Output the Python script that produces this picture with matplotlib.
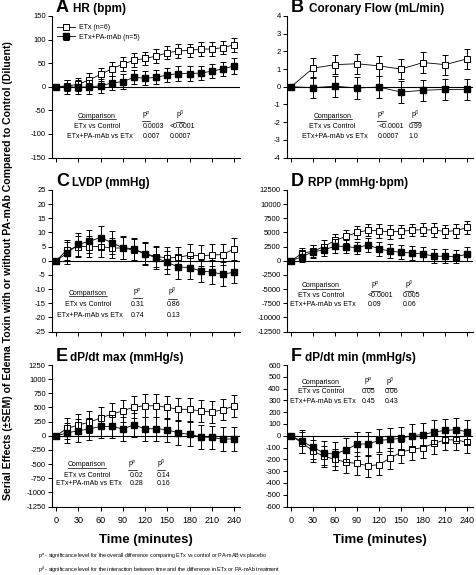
import matplotlib
matplotlib.use("Agg")
import matplotlib.pyplot as plt
from matplotlib.lines import Line2D

plt.rcParams["font.family"] = ["Liberation Sans", "DejaVu Sans"]
plt.rcParams["mathtext.fontset"] = "custom"
plt.rcParams["mathtext.rm"] = "Liberation Sans"
plt.rcParams["mathtext.it"] = "Liberation Sans:italic"
plt.rcParams["mathtext.bf"] = "Liberation Sans:bold"
plt.rcParams["axes.unicode_minus"] = False

# time points (minutes)
t15 = [0, 15, 30, 45, 60, 75, 90, 105, 120, 135, 150, 165, 180, 195, 210, 225, 240]
t30 = [0, 30, 60, 90, 120, 150, 180, 210, 240]

# A - HR (bpm)
hr_etx = [0, 2, 5, 15, 26, 38, 48, 56, 60, 65, 72, 76, 77, 80, 80, 83, 89]
hr_etx_err = [0, 12, 14, 14, 14, 15, 15, 15, 14, 14, 14, 14, 14, 14, 14, 14, 15]
hr_mab = [0, 0, -1, 0, 2, 8, 11, 20, 18, 20, 25, 28, 28, 29, 33, 38, 44]
hr_mab_err = [0, 15, 15, 15, 15, 15, 15, 15, 15, 15, 15, 15, 15, 15, 15, 15, 16]

# B - Coronary flow (mL/min)
cf_etx = [0, 1.05, 1.25, 1.3, 1.18, 1.0, 1.37, 1.25, 1.58]
cf_etx_err = [0, 0.55, 0.55, 0.57, 0.57, 0.57, 0.57, 0.57, 0.57]
cf_mab = [0, -0.05, 0.03, -0.07, -0.02, -0.3, -0.2, -0.15, -0.15]
cf_mab_err = [0, 0.6, 0.6, 0.6, 0.6, 0.6, 0.6, 0.6, 0.6]

# C - LVDP (mmHg)
lv_etx = [0, 3.9, 5.0, 5.0, 5.0, 4.5, 4.5, 3.8, 2.5, 1.5, 1.0, 1.2, 2.0, 1.8, 2.0, 2.2, 4.2]
lv_etx_err = [0, 3.5, 3.7, 3.8, 3.5, 3.5, 3.8, 4.0, 3.8, 3.8, 3.8, 3.8, 3.8, 3.8, 3.8, 3.8, 3.8]
lv_mab = [0, 2.7, 5.8, 6.9, 8.2, 6.4, 4.6, 4.2, 2.5, 1.0, -0.6, -2.2, -2.4, -3.6, -4.0, -4.8, -4.0]
lv_mab_err = [0, 4.0, 4.0, 4.0, 4.1, 4.0, 4.0, 4.0, 4.0, 4.0, 4.1, 4.2, 4.0, 4.0, 4.2, 4.2, 4.0]

# D - RPP (mmHg*bpm)
rpp_etx = [0, 1300, 1700, 2500, 3600, 4300, 5000, 5400, 5300, 5100, 5200, 5400, 5500, 5400, 5200, 5300, 5900]
rpp_etx_err = [0, 900, 1000, 1100, 1200, 1100, 1100, 1100, 1200, 1200, 1200, 1100, 1200, 1200, 1200, 1200, 1100]
rpp_mab = [0, 700, 1600, 1900, 2600, 2500, 2300, 2800, 2100, 1700, 1500, 1350, 1200, 800, 800, 750, 1150]
rpp_mab_err = [0, 1000, 1100, 1100, 1200, 1200, 1100, 1200, 1200, 1200, 1200, 1200, 1200, 1200, 1200, 1200, 1200]

# E - dP/dt max (mmHg/s)
dmax_etx = [0, 130, 190, 240, 315, 380, 440, 505, 530, 530, 500, 470, 465, 440, 420, 460, 525]
dmax_etx_err = [0, 180, 190, 190, 190, 190, 190, 200, 200, 200, 200, 200, 200, 200, 200, 190, 190]
dmax_mab = [0, 50, 90, 120, 165, 165, 120, 195, 120, 125, 105, 50, 25, -20, -30, -60, -55]
dmax_mab_err = [0, 180, 200, 200, 210, 210, 210, 210, 210, 210, 210, 210, 210, 210, 210, 210, 210]

# F - dP/dt min (mmHg/s)
dmin_etx = [0, -60, -130, -175, -200, -225, -235, -255, -245, -190, -140, -115, -100, -65, -35, -35, -55]
dmin_etx_err = [0, 90, 90, 90, 90, 90, 95, 95, 90, 90, 90, 90, 90, 90, 90, 90, 90]
dmin_mab = [0, -48, -98, -147, -156, -120, -70, -70, -40, -31, -22, 2, 10, 32, 45, 52, 33]
dmin_mab_err = [0, 100, 100, 100, 100, 100, 100, 100, 100, 100, 100, 100, 100, 100, 100, 100, 100]

letters = ["A", "B", "C", "D", "E", "F"]
titles = ["HR (bpm)", "Coronary Flow (mL/min)", "LVDP (mmHg)",
          "RPP (mmHg\u00b7bpm)", "dP/dt max (mmHg/s)", "dP/dt min (mmHg/s)"]
ylims = [(-150, 150, 50), (-4, 4, 1), (-25, 25, 5),
         (-12500, 12500, 2500), (-1250, 1250, 250), (-600, 600, 100)]
stats = [
    (("0.0003", "<0.0001"), ("0.007", "0.0007")),
    (("<0.0001", "0.99"), ("0.0007", "1.0")),
    (("0.31", "0.86"), ("0.74", "0.13")),
    (("<0.0001", "0.005"), ("0.09", "0.06")),
    (("0.02", "0.14"), ("0.28", "0.16")),
    (("0.05", "0.06"), ("0.45", "0.43")),
]
series = [
    (t15, hr_etx, hr_etx_err, hr_mab, hr_mab_err),
    (t30, cf_etx, cf_etx_err, cf_mab, cf_mab_err),
    (t15, lv_etx, lv_etx_err, lv_mab, lv_mab_err),
    (t15, rpp_etx, rpp_etx_err, rpp_mab, rpp_mab_err),
    (t15, dmax_etx, dmax_etx_err, dmax_mab, dmax_mab_err),
    (t15, dmin_etx, dmin_etx_err, dmin_mab, dmin_mab_err),
]

W, H = 476, 575
fig = plt.figure(figsize=(W / 100, H / 100), dpi=100)
fig.set_facecolor("white")

# axes boxes in pixels
col_left = [52, 287]
col_w = [188, 186]
row_top = [16, 190, 365]
row_h = 141.5

# per panel table layout (axes fractions): comparison x, pa x, pa val x, pb x, pb val x, header y, row1 y, row2 y
tables = [
    (0.24, 0.50, 0.485, 0.68, 0.628, 0.28, 0.205, 0.14),
    (0.245, 0.51, 0.49, 0.69, 0.655, 0.28, 0.205, 0.14),
    (0.19, 0.457, 0.42, 0.64, 0.612, 0.26, 0.183, 0.106),
    (0.183, 0.478, 0.435, 0.656, 0.624, 0.312, 0.241, 0.177),
    (0.186, 0.43, 0.415, 0.58, 0.556, 0.284, 0.206, 0.149),
    (0.183, 0.44, 0.403, 0.554, 0.527, 0.865, 0.80, 0.73),
]
label_x = [0.112, 0.118, 0.106, 0.113, 0.096, 0.097]

underlined = []

for i in range(6):
    r, c = divmod(i, 2)
    left = col_left[c] / W
    bottom = 1 - (row_top[r] + row_h) / H
    ax = fig.add_axes([left, bottom, col_w[c] / W, row_h / H])
    t, e_y, e_err, m_y, m_err = series[i]

    ax.axhline(0, color="black", lw=0.8, zorder=1)
    ms = 4.3 if i == 1 else 3.7
    ax.errorbar(t, e_y, yerr=e_err, fmt="s-", color="black", lw=0.6,
                ms=ms, mfc="white", mec="black", mew=0.7,
                ecolor="black", elinewidth=0.7, capsize=2.4, capthick=0.7,
                zorder=3, label="ETx (n=6)")
    ax.errorbar(t, m_y, yerr=m_err, fmt="s-", color="black", lw=0.6,
                ms=ms + 0.4, mfc="black", mec="black",
                ecolor="black", elinewidth=0.7, capsize=2.4, capthick=0.7,
                zorder=4, label="ETx+PA-mAb (n=5)")

    lo, hi, step = ylims[i]
    ax.set_ylim(lo, hi)
    ax.set_yticks([lo + k * step for k in range(int((hi - lo) / step) + 1)])
    ax.set_xlim(-5.5, 248)
    ax.set_xticks([0, 30, 60, 90, 120, 150, 180, 210, 240])
    ax.spines["top"].set_visible(False)
    ax.spines["right"].set_visible(False)
    ax.spines["left"].set_linewidth(0.8)
    ax.spines["bottom"].set_linewidth(0.8)
    ax.tick_params(axis="y", direction="out", length=3, width=0.7, labelsize=5.5, pad=1.5)
    ax.tick_params(axis="x", direction="out", length=3, width=0.7, labelsize=6.5, pad=4)
    if r < 2:
        ax.set_xticklabels([])
    else:
        ax.set_xlabel("Time (minutes)", fontsize=9.5, fontweight="bold", labelpad=6)

    # panel title
    ax.text(0.02, 1.025, letters[i], transform=ax.transAxes, fontsize=13,
            fontweight="bold", va="baseline", ha="left")
    ax.text(label_x[i], 1.025, titles[i], transform=ax.transAxes, fontsize=8.5,
            fontweight="bold", va="baseline", ha="left")

    # comparison table
    cx, pax, pavx, pbx, pbvx, hy, y1, y2 = tables[i]
    fs = 5.0
    underlined.append(ax.text(cx, hy, "Comparison", transform=ax.transAxes,
                              fontsize=fs, ha="center", va="baseline"))
    underlined.append(ax.text(pax, hy, r"p$^{\alpha}$", transform=ax.transAxes,
                              fontsize=fs, ha="center", va="baseline"))
    underlined.append(ax.text(pbx, hy, r"p$^{\beta}$", transform=ax.transAxes,
                              fontsize=fs, ha="center", va="baseline"))
    (a1, b1), (a2, b2) = stats[i]
    ax.text(cx, y1, "ETx vs Control", transform=ax.transAxes, fontsize=fs, ha="center", va="baseline")
    ax.text(cx + 0.012, y2, "ETx+PA-mAb vs ETx", transform=ax.transAxes, fontsize=fs, ha="center", va="baseline")
    ax.text(pavx, y1, a1, transform=ax.transAxes, fontsize=fs, ha="left", va="baseline")
    ax.text(pavx, y2, a2, transform=ax.transAxes, fontsize=fs, ha="left", va="baseline")
    ax.text(pbvx, y1, b1, transform=ax.transAxes, fontsize=fs, ha="left", va="baseline")
    ax.text(pbvx, y2, b2, transform=ax.transAxes, fontsize=fs, ha="left", va="baseline")

    if i == 0:
        ax.legend(loc="upper left", bbox_to_anchor=(0.01, 0.96), frameon=False,
                  fontsize=5, handlelength=2.6, labelspacing=0.35, handletextpad=0.6,
                  borderaxespad=0.0)

fig.text(0.017, 0.53,
         "Serial Effects (\u00b1SEM) of Edema Toxin with or without PA-mAb Compared to Control (Diluent)",
         rotation=90, ha="center", va="center", fontsize=7.6, fontweight="bold")

fig.text(38 / W, 1 - 558 / H,
         r"p$^{\alpha}$ - significance level for the overall difference comparing ETx vs control or PA-mAB vs placebo",
         fontsize=3.9, ha="left", va="baseline")
fig.text(38 / W, 1 - 572 / H,
         r"p$^{\beta}$ - significance level for the interaction between time and the difference in ETx or PA-mAb treatment",
         fontsize=3.9, ha="left", va="baseline")

# underline table headers (mathtext has no \underline)
fig.canvas.draw()
renderer = fig.canvas.get_renderer()
inv = fig.transFigure.inverted()
for txt in underlined:
    bb = txt.get_window_extent(renderer)
    x0, y0 = inv.transform((bb.x0, bb.y0 + 0.6))
    x1, _ = inv.transform((bb.x1, bb.y0 + 0.6))
    fig.add_artist(Line2D([x0, x1], [y0, y0], transform=fig.transFigure,
                          color="black", lw=0.5))

fig.savefig("out.png", dpi=100, facecolor="white")
